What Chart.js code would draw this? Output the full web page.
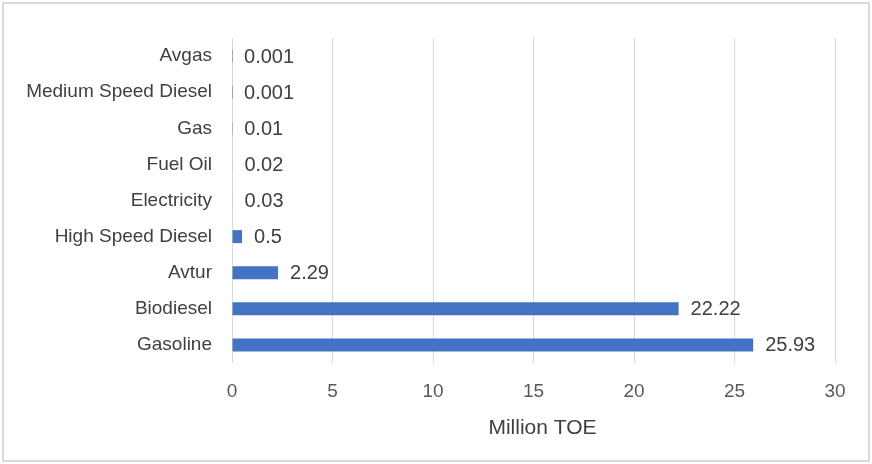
<!DOCTYPE html>
<html>
<head>
<meta charset="utf-8">
<script src="https://cdn.jsdelivr.net/npm/chart.js@4"></script>
<style>
  html, body { margin: 0; padding: 0; background: #ffffff; }
  #wrap { width: 872px; height: 464px; position: relative; }
</style>
</head>
<body>
<div id="wrap"><canvas id="c" width="872" height="464"></canvas></div>
<script>
// Transport energy consumption by fuel type
const fuels = ["Avgas", "Medium Speed Diesel", "Gas", "Fuel Oil", "Electricity",
               "High Speed Diesel", "Avtur", "Biodiesel", "Gasoline"];
const consumption = [0.001, 0.001, 0.01, 0.02, 0.03, 0.5, 2.29, 22.22, 25.93];
const valueLabels = ["0.001", "0.001", "0.01", "0.02", "0.03", "0.5", "2.29", "22.22", "25.93"];
const xTicks = [0, 5, 10, 15, 20, 25, 30];
const xAxisTitle = "Million TOE";

const FONT = "'Liberation Sans', Arial, sans-serif";

// White background and light frame around the whole figure
const framePlugin = {
  id: 'frame',
  beforeDraw(chart) {
    const ctx = chart.ctx;
    ctx.save();
    ctx.fillStyle = '#ffffff';
    ctx.fillRect(0, 0, chart.width, chart.height);
    ctx.strokeStyle = '#d9d9d9';
    ctx.lineWidth = 2;
    ctx.strokeRect(3, 3, chart.width - 6, chart.height - 6);
    ctx.restore();
  }
};

// Value labels just past the end of each bar, plus the x-axis title
const labelPlugin = {
  id: 'valueLabels',
  afterDatasetsDraw(chart) {
    const ctx = chart.ctx;
    const meta = chart.getDatasetMeta(0);
    ctx.save();
    ctx.font = "20px " + FONT;
    ctx.fillStyle = '#404040';
    ctx.textAlign = 'left';
    ctx.textBaseline = 'middle';
    meta.data.forEach((bar, i) => {
      ctx.fillText(valueLabels[i], bar.x + 12, bar.y + 1);
    });

    // axis title, set slightly right of the plot centre
    const area = chart.chartArea;
    ctx.font = "21px " + FONT;
    ctx.textAlign = 'center';
    ctx.fillText(xAxisTitle, (area.left + area.right) / 2 + 9, 428);
    ctx.restore();
  }
};

new Chart(document.getElementById('c'), {
  type: 'bar',
  data: {
    labels: fuels,
    datasets: [{
      data: consumption,
      backgroundColor: '#4472C4',
      borderWidth: 0,
      categoryPercentage: 1.0,
      barPercentage: 0.36
    }]
  },
  options: {
    indexAxis: 'y',
    responsive: false,
    animation: false,
    layout: { padding: { left: 0, right: 37, top: 38, bottom: 0 } },
    plugins: {
      legend: { display: false },
      tooltip: { enabled: false }
    },
    scales: {
      x: {
        min: 0,
        max: 30,
        afterBuildTicks(scale) {
          scale.ticks = xTicks.map(v => ({ value: v }));
        },
        afterFit(scale) { scale.height = 101; },
        grid: { color: '#d9d9d9', lineWidth: 1, drawTicks: false },
        border: { display: false },
        ticks: {
          padding: 17,
          color: '#595959',
          font: { family: FONT, size: 19 }
        }
      },
      y: {
        afterFit(scale) { scale.width = 232; },
        grid: { display: false, drawTicks: false },
        border: { display: false },
        ticks: {
          padding: 20,
          color: '#404040',
          font: { family: FONT, size: 19 }
        }
      }
    }
  },
  plugins: [framePlugin, labelPlugin]
});
</script>
</body>
</html>
